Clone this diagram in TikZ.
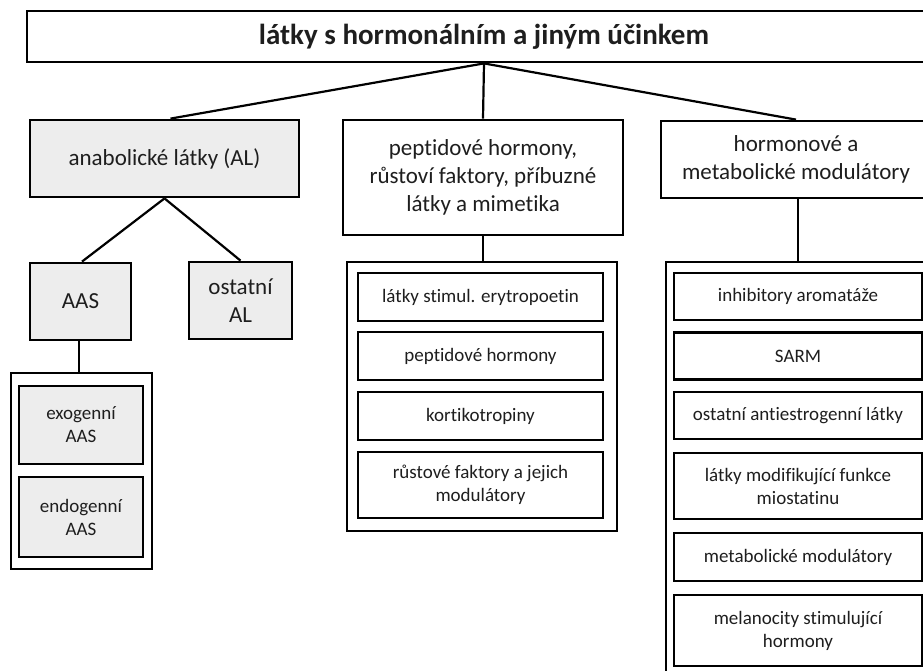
\documentclass[tikz,border=0pt]{standalone}
\usepackage{fontspec}
\setmainfont{Carlito}[RawFeature={-liga;-clig;-dlig;-calt}]
\definecolor{boxgrey}{RGB}{237,237,237}
\definecolor{txt}{RGB}{30,30,30}
\begin{document}
\begin{tikzpicture}[x=1pt,y=-1pt,
  every node/.style={inner sep=0pt, align=center, text=txt},
  boxline/.style={draw=black, line width=2.8pt},
  big/.style={boxline, font=\fontsize{23}{28}\selectfont},
  small/.style={boxline, font=\fontsize{19}{23}\selectfont},
  grey/.style={fill=boxgrey},
  link/.style={draw=black, line width=2.2pt}]
\useasboundingbox (0,0) rectangle (923,670);
\clip (0,0) rectangle (923,670);
\fill[white] (0,0) rectangle (923,670);

% top
\node[boxline, font=\bfseries\fontsize{29}{34}\selectfont, minimum width=914pt, minimum height=51pt] (top) at (484,36.5) {látky s hormonálním a jiným účinkem};

% level 1
\node[big, grey, minimum width=269pt, minimum height=77pt] (al) at (164.5,158.5) {anabolické látky (AL)};
\node[big, minimum width=280pt, minimum height=115pt] (pep) at (483,177.5) {peptidové hormony,\\růstoví faktory, příbuzné\\látky a mimetika};
\node[big, minimum width=270pt, minimum height=77pt] (hor) at (796,159.5) {hormonové a\\metabolické modulátory};

% AL children
\node[big, grey, minimum width=101pt, minimum height=77pt] (aas) at (80.5,301.5) {AAS};
\node[big, grey, minimum width=103pt, minimum height=77pt] (ost) at (240.5,300.5) {ostatní\\AL};

% AAS group
\node[boxline, minimum width=141pt, minimum height=196pt] (aasgrp) at (81.5,471) {};
\node[small, grey, minimum width=124pt, minimum height=78pt] (exo) at (81,425) {exogenní\\AAS};
\node[small, grey, minimum width=124pt, minimum height=80pt] (endo) at (81,517) {endogenní\\AAS};

% peptide group
\node[boxline, minimum width=270pt, minimum height=269pt] (pepgrp) at (482,396.5) {};
\node[small, minimum width=245pt, minimum height=48pt] (p1) at (480.5,297) {látky stimul. erytropoetin};
\node[small, minimum width=245pt, minimum height=48pt] (p2) at (480.5,356) {peptidové hormony};
\node[small, minimum width=245pt, minimum height=48pt] (p3) at (480.5,416) {kortikotropiny};
\node[small, minimum width=245pt, minimum height=66pt] (p4) at (480.5,485) {růstové faktory a jejich\\modulátory};

% hormone group
\node[boxline, minimum width=264pt, minimum height=440pt] (horgrp) at (798,482) {};
\node[small, minimum width=248pt, minimum height=47pt] (h1) at (798,296.5) {inhibitory aromatáže};
\node[small, minimum width=248pt, minimum height=47pt] (h2) at (798,356) {SARM};
\node[small, minimum width=248pt, minimum height=47pt] (h3) at (798,415.5) {ostatní antiestrogenní látky};
\node[small, minimum width=248pt, minimum height=66pt] (h4) at (798,486) {látky modifikující funkce\\miostatinu};
\node[small, minimum width=248pt, minimum height=48pt] (h5) at (798,557) {metabolické modulátory};
\node[small, minimum width=248pt, minimum height=71pt] (h6) at (798,630.5) {melanocity stimulující\\hormony};

% connectors
\draw[link] (top.south) -- ([xshift=6pt]al.north);
\draw[link] (top.south) -- (pep.north);
\draw[link] (top.south) -- (hor.north);
\draw[link] (al.south) -- ([xshift=1.5pt]aas.north);
\draw[link] (al.south) -- (ost.north);
\draw[link] ([xshift=-1.5pt]aas.south) -- ([xshift=-1.5pt]aas.south |- aasgrp.north);
\draw[link] (pep.south) -- (pep.south |- pepgrp.north);
\draw[link] ([xshift=2pt]hor.south) -- ([xshift=2pt]hor.south |- horgrp.north);
\end{tikzpicture}
\end{document}
